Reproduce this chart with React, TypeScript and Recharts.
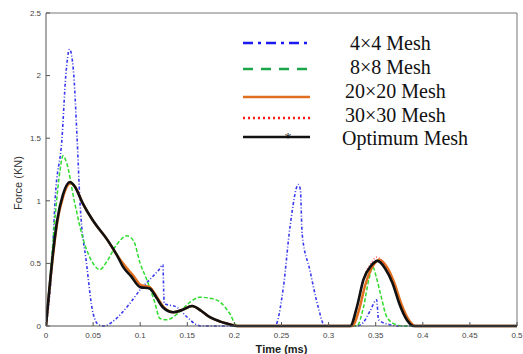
import { Line, LineChart, ReferenceLine, XAxis, YAxis } from 'recharts';

// time (ms) and force (kN)
const mesh4Time = [0, 0.0064, 0.0096, 0.017, 0.021, 0.025, 0.029, 0.033, 0.036, 0.043, 0.05, 0.056, 0.062, 0.07, 0.08, 0.09, 0.1, 0.11, 0.12, 0.124, 0.1255, 0.139, 0.15, 0.16, 0.165, 0.243, 0.252, 0.259, 0.268, 0.27, 0.272, 0.28, 0.289, 0.296, 0.33, 0.337, 0.344, 0.351, 0.353, 0.365, 0.372, 0.5];
const mesh4Force = [0, 0.5, 1.0, 1.5, 2.0, 2.21, 2.05, 1.5, 1.0, 0.5, 0.1, 0.01, 0, 0.03, 0.1, 0.19, 0.29, 0.37, 0.45, 0.49, 0.18, 0.15, 0.07, 0.01, 0, 0, 0.31, 0.79, 1.13, 1.09, 0.73, 0.45, 0.15, 0, 0, 0.03, 0.12, 0.21, 0.05, 0.01, 0, 0];

const mesh8Time = [0, 0.005, 0.01, 0.015, 0.018, 0.022, 0.03, 0.04, 0.05, 0.057, 0.065, 0.075, 0.086, 0.093, 0.1, 0.107, 0.115, 0.121, 0.128, 0.14, 0.153, 0.163, 0.175, 0.185, 0.195, 0.203, 0.33, 0.337, 0.343, 0.347, 0.351, 0.355, 0.362, 0.372, 0.38, 0.5];
const mesh8Force = [0, 0.45, 0.9, 1.25, 1.36, 1.3, 1.0, 0.68, 0.5, 0.45, 0.52, 0.65, 0.72, 0.68, 0.5, 0.37, 0.2, 0.06, 0.05, 0.1, 0.19, 0.23, 0.22, 0.19, 0.1, 0, 0, 0.15, 0.38, 0.47, 0.38, 0.26, 0.07, 0.01, 0, 0];

const mesh20Time = [0, 0.0074, 0.012, 0.018, 0.026, 0.031, 0.039, 0.05, 0.065, 0.075, 0.086, 0.093, 0.1, 0.11, 0.117, 0.124, 0.135, 0.145, 0.155, 0.165, 0.174, 0.185, 0.192, 0.205, 0.325, 0.332, 0.339, 0.347, 0.354, 0.362, 0.37, 0.377, 0.385, 0.392, 0.5];
const mesh20Force = [0, 0.56, 0.83, 1.03, 1.14, 1.11, 0.98, 0.84, 0.69, 0.57, 0.46, 0.4, 0.33, 0.31, 0.24, 0.16, 0.11, 0.13, 0.16, 0.12, 0.07, 0.035, 0.02, 0, 0, 0.12, 0.33, 0.48, 0.53, 0.47, 0.34, 0.18, 0.05, 0, 0];

const mesh30Time = [0, 0.0074, 0.012, 0.018, 0.0255, 0.03, 0.039, 0.05, 0.065, 0.075, 0.082, 0.09, 0.1, 0.11, 0.117, 0.124, 0.135, 0.145, 0.155, 0.165, 0.174, 0.185, 0.192, 0.203, 0.323, 0.33, 0.337, 0.345, 0.351, 0.36, 0.368, 0.375, 0.383, 0.39, 0.5];
const mesh30Force = [0, 0.57, 0.84, 1.04, 1.15, 1.12, 0.98, 0.84, 0.69, 0.57, 0.47, 0.4, 0.32, 0.3, 0.23, 0.15, 0.11, 0.13, 0.16, 0.12, 0.07, 0.035, 0.02, 0, 0, 0.15, 0.38, 0.5, 0.55, 0.48, 0.35, 0.19, 0.05, 0, 0];

const optimumTime = [0, 0.0074, 0.012, 0.018, 0.0255, 0.03, 0.039, 0.05, 0.065, 0.075, 0.082, 0.09, 0.1, 0.11, 0.117, 0.124, 0.135, 0.145, 0.155, 0.165, 0.174, 0.185, 0.192, 0.203, 0.323, 0.33, 0.337, 0.345, 0.352, 0.36, 0.368, 0.375, 0.383, 0.39, 0.5];
const optimumForce = [0, 0.58, 0.85, 1.05, 1.15, 1.12, 0.98, 0.84, 0.69, 0.57, 0.47, 0.4, 0.31, 0.3, 0.23, 0.15, 0.11, 0.13, 0.16, 0.12, 0.07, 0.035, 0.02, 0, 0, 0.15, 0.37, 0.48, 0.52, 0.46, 0.34, 0.18, 0.05, 0, 0];

const timeTicks = [0, 0.05, 0.1, 0.15, 0.2, 0.25, 0.3, 0.35, 0.4, 0.45, 0.5];
const forceTicks = [0, 0.5, 1, 1.5, 2, 2.5];

const legendItems = [
  { name: '4×4 Mesh', color: '#1a1aee', dash: '10 5 3 5', textX: 120, lineY: 23, textY: 23 },
  { name: '8×8 Mesh', color: '#19a648', dash: '10 8', textX: 120, lineY: 49, textY: 47 },
  { name: '20×20 Mesh', color: '#e07020', dash: undefined, textX: 115, lineY: 77, textY: 71 },
  { name: '30×30 Mesh', color: '#ff1a1a', dash: '2 3', textX: 115, lineY: 98, textY: 94.5 },
  { name: 'Optimum Mesh', color: '#111111', dash: undefined, textX: 112, lineY: 117, textY: 118 },
];

const toRows = (t: number[], f: number[]) => t.map((time, i) => ({ time, force: f[i] }));

function MeshLegend() {
  return (
    <svg width={270} height={135} style={{ display: 'block' }}>
      {legendItems.map((item) => (
        <g key={item.name}>
          <line x1={13} x2={80} y1={item.lineY} y2={item.lineY} stroke={item.color} strokeWidth={2.5} strokeDasharray={item.dash} />
          {item.name === 'Optimum Mesh' && (
            <text x={58} y={item.lineY + 6} textAnchor="middle" fontSize={14} fill="#111">*</text>
          )}
          <text x={item.textX} y={item.textY + 7} fontFamily="'Liberation Serif', 'Times New Roman', serif" fontSize={20} fill="#111">
            {item.name}
          </text>
        </g>
      ))}
    </svg>
  );
}

export default function App() {
  const tickStyle = { fontSize: 8, fill: '#444', fontFamily: "'Liberation Sans', Arial, sans-serif" };
  return (
    <div style={{ position: 'absolute', left: 0, top: 0, width: 523, height: 354, background: '#fff' }}>
      <LineChart width={523} height={354} margin={{ top: 13, right: 6, bottom: 0, left: 0 }}>
        <XAxis
          dataKey="time"
          type="number"
          domain={[0, 0.5]}
          ticks={timeTicks}
          allowDataOverflow
          height={28}
          stroke="#555"
          tickSize={-4}
          tickMargin={10}
          tick={tickStyle}
          tickFormatter={(v) => String(v)}
          label={{ value: 'Time (ms)', position: 'insideBottom', offset: 1, style: { fontSize: 11, fill: '#222', fontWeight: 'bold', fontFamily: "'Liberation Sans', Arial, sans-serif" } }}
        />
        <YAxis
          type="number"
          domain={[0, 2.5]}
          ticks={forceTicks}
          width={46}
          stroke="#555"
          tickSize={-4}
          tickMargin={9}
          tick={tickStyle}
          tickFormatter={(v) => String(v)}
          label={({ viewBox }: any) => (
            <text
              x={19}
              y={(viewBox?.y ?? 13) + 170}
              transform={`rotate(-90 19 ${(viewBox?.y ?? 13) + 170})`}
              textAnchor="middle"
              dominantBaseline="middle"
              fontSize={11}
              fill="#333"
              fontFamily="'Liberation Sans', Arial, sans-serif"
            >
              Force (KN)
            </text>
          )}
        />
        <ReferenceLine y={2.5} stroke="#777" strokeWidth={1} />
        <ReferenceLine x={0.5} stroke="#777" strokeWidth={1} />
        <Line data={toRows(mesh4Time, mesh4Force)} dataKey="force" name="4×4 Mesh" type="monotone" stroke="#3838ee" strokeWidth={1.6} strokeDasharray="3 2 1 2" dot={false} isAnimationActive={false} />
        <Line data={toRows(mesh8Time, mesh8Force)} dataKey="force" name="8×8 Mesh" type="monotone" stroke="#2fdc2f" strokeWidth={1.5} strokeDasharray="4 2" dot={false} isAnimationActive={false} />
        <Line data={toRows(mesh20Time, mesh20Force)} dataKey="force" name="20×20 Mesh" type="monotone" stroke="#e07020" strokeWidth={2.5} dot={false} isAnimationActive={false} />
        <Line data={toRows(mesh30Time, mesh30Force)} dataKey="force" name="30×30 Mesh" type="monotone" stroke="#ff4040" strokeWidth={1.4} strokeDasharray="1 2" dot={false} isAnimationActive={false} />
        <Line data={toRows(optimumTime, optimumForce)} dataKey="force" name="Optimum Mesh" type="monotone" stroke="#111" strokeWidth={2.6} dot={false} isAnimationActive={false} />
      </LineChart>
      <div style={{ position: 'absolute', left: 230, top: 20 }}>
        <MeshLegend />
      </div>
    </div>
  );
}
